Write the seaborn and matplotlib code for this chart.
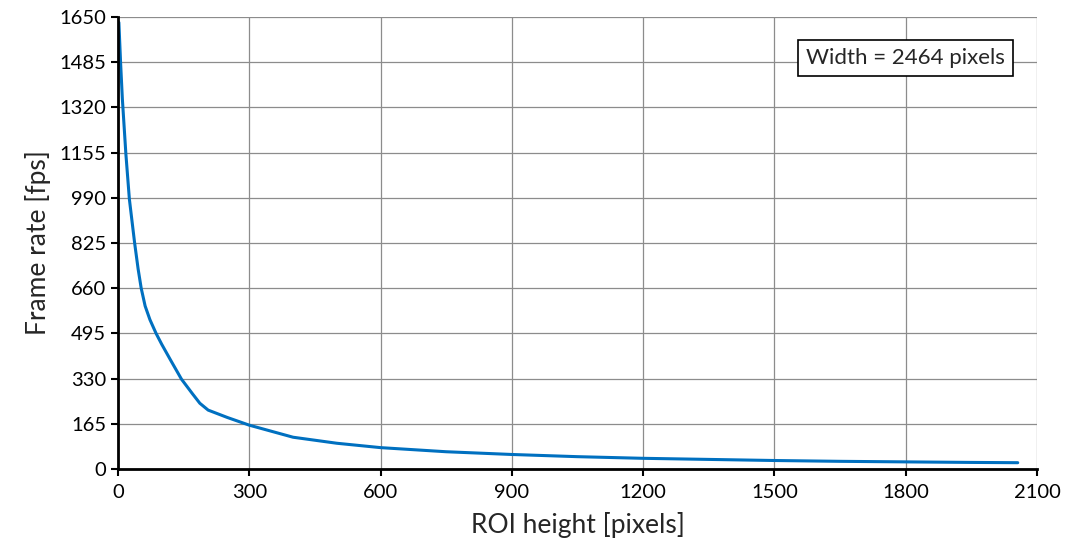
import numpy as np
import pandas as pd
import seaborn as sns
import matplotlib.pyplot as plt

# ROI height [pixels] vs frame rate [fps]
roi_height = [2, 6, 10, 18, 26, 38, 46, 53, 62, 73, 87, 100, 120, 145, 170, 187, 206,
              250, 300, 400, 500, 600, 750, 900, 1050, 1200, 1350, 1500,
              1650, 1800, 1950, 2056]
frame_rate = [1630, 1480, 1350, 1150, 985, 825, 730, 660, 595, 545, 495, 455, 398, 328, 275, 240, 215,
              188, 160, 116, 94, 78, 63, 53, 45, 39, 35, 31,
              28, 26, 24, 23]

x_ticks = [0, 300, 600, 900, 1200, 1500, 1800, 2100]
y_ticks = [0, 165, 330, 495, 660, 825, 990, 1155, 1320, 1485, 1650]

df = pd.DataFrame({'ROI height': roi_height, 'Frame rate': frame_rate})

sns.set_style('white')
plt.rcParams['font.family'] = ['Lato', 'DejaVu Sans']

fig = plt.figure(figsize=(10.73, 5.56), dpi=100)
ax = fig.add_axes([118 / 1073, 1 - 469 / 556, 919 / 1073, 452 / 556])

sns.lineplot(data=df, x='ROI height', y='Frame rate', ax=ax,
             color='#0070C0', linewidth=2.2)

ax.set_xlim(0, 2100)
ax.set_ylim(0, 1650)
ax.set_xticks(x_ticks)
ax.set_yticks(y_ticks)
ax.grid(True, color='#8c8c8c', linewidth=0.9)
ax.set_axisbelow(True)

for s in ['top', 'right']:
    ax.spines[s].set_visible(False)
for s in ['left', 'bottom']:
    ax.spines[s].set_color('black')
    ax.spines[s].set_linewidth(2)

ax.tick_params(axis='both', direction='out', length=5, width=1.5,
               colors='black', labelsize=14.5, left=True, bottom=True)
ax.tick_params(axis='x', pad=6)

ax.set_xlabel('ROI height [pixels]', fontsize=19, labelpad=8)
ax.set_ylabel('Frame rate [fps]', fontsize=19, labelpad=6)

ax.text(0.857, 0.909, 'Width = 2464 pixels', transform=ax.transAxes,
        ha='center', va='center', fontsize=16,
        bbox=dict(boxstyle='square,pad=0.35', facecolor='white',
                  edgecolor='black', linewidth=1.2))

fig.savefig('out.png', dpi=100)
